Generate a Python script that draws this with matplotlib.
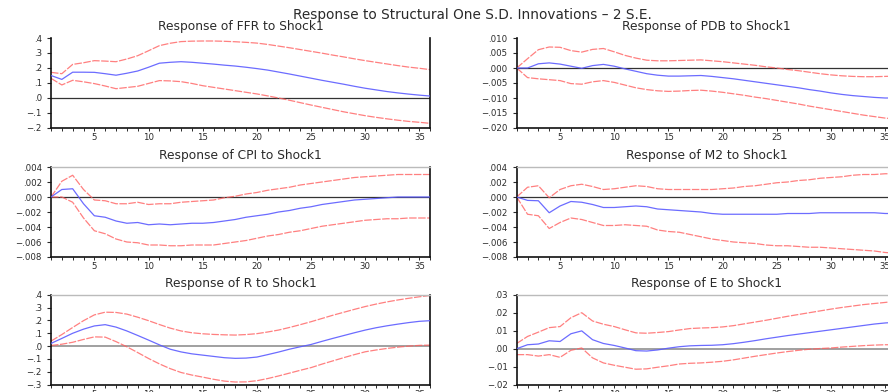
import numpy as np
import matplotlib
matplotlib.use("Agg")
import matplotlib.pyplot as plt
from matplotlib.ticker import FixedLocator, MultipleLocator

plt.rcParams['font.family'] = ['DejaVu Sans']

periods = np.arange(1, 37)

ffr_resp = [.150, .124, .172, .172, .171, .162, .152, .165, .180, .205, .232, .238, .242, .238, .232, .226,
            .219, .213, .205, .196, .186, .173, .160, .146, .132, .118, .105, .092, .078, .065, .054, .043,
            .034, .026, .019, .013]
ffr_upper = [.171, .162, .224, .235, .249, .246, .242, .260, .282, .315, .349, .365, .376, .379, .380, .380,
             .378, .375, .371, .366, .357, .346, .335, .323, .311, .299, .286, .274, .261, .249, .238, .227,
             .216, .206, .198, .189]
ffr_lower = [.131, .087, .118, .108, .096, .080, .062, .070, .078, .097, .116, .114, .109, .097, .082, .071,
             .060, .049, .038, .027, .014, .000, -.015, -.031, -.047, -.062, -.077, -.092, -.105, -.118,
             -.129, -.139, -.148, -.156, -.162, -.169]

pdb_resp = [0, 0, .0014, .0017, .0013, .0006, -.0001, .0008, .0012, .0006, -.0003, -.0011, -.0019, -.0024,
            -.0027, -.0027, -.0026, -.0025, -.0028, -.0032, -.0036, -.0041, -.0046, -.0051, -.0056, -.0061,
            -.0066, -.0072, -.0077, -.0083, -.0088, -.0092, -.0095, -.0098, -.0100, -.0100]
pdb_upper = [0, .0031, .0061, .0070, .0069, .0058, .0053, .0062, .0065, .0054, .0042, .0033, .0026, .0024,
             .0024, .0025, .0026, .0027, .0024, .0021, .0017, .0013, .0009, .0004, .0000, -.0005, -.0009,
             -.0014, -.0019, -.0023, -.0026, -.0028, -.0029, -.0029, -.0028, -.0027]
pdb_lower = [0, -.0032, -.0036, -.0039, -.0042, -.0052, -.0054, -.0046, -.0042, -.0048, -.0057, -.0066,
             -.0072, -.0076, -.0078, -.0077, -.0075, -.0074, -.0077, -.0081, -.0086, -.0091, -.0097, -.0102,
             -.0108, -.0114, -.0120, -.0127, -.0133, -.0139, -.0145, -.0151, -.0157, -.0162, -.0167, -.0170]

cpi_resp = [0, .0010, .0011, -.0009, -.0025, -.0027, -.0032, -.0035, -.0034, -.0037, -.0036, -.0037, -.0036,
            -.0035, -.0035, -.0034, -.0032, -.0030, -.0027, -.0025, -.0023, -.0020, -.0018, -.0015, -.0013,
            -.0010, -.0008, -.0006, -.0004, -.0003, -.0002, -.0001, .0000, .0000, .0000, .0000]
cpi_upper = [0, .0021, .0029, .0010, -.0004, -.0005, -.0009, -.0009, -.0007, -.0010, -.0009, -.0009, -.0007,
             -.0006, -.0005, -.0004, -.0001, .0001, .0004, .0006, .0009, .0011, .0013, .0016, .0018, .0020,
             .0022, .0024, .0026, .0027, .0028, .0029, .0030, .0030, .0030, .0030]
cpi_lower = [0, .0000, -.0007, -.0028, -.0045, -.0049, -.0056, -.0060, -.0061, -.0064, -.0064, -.0065,
             -.0065, -.0064, -.0064, -.0064, -.0062, -.0060, -.0058, -.0055, -.0052, -.0050, -.0047, -.0045,
             -.0042, -.0039, -.0037, -.0035, -.0033, -.0031, -.0030, -.0029, -.0029, -.0028, -.0028, -.0028]

m2_resp = [0, -.00045, -.0005, -.0021, -.0012, -.0006, -.0007, -.0010, -.0014, -.0014, -.0013, -.0012,
           -.0013, -.0016, -.0017, -.0018, -.0019, -.0020, -.0022, -.0023, -.0023, -.0023, -.0023, -.0023,
           -.0023, -.0022, -.0022, -.0022, -.0021, -.0021, -.0021, -.0021, -.0021, -.0021, -.0022, -.0022]
m2_upper = [0, .0013, .0015, -.0001, .0010, .0015, .0017, .0014, .0010, .0011, .0013, .0015, .0014, .0011,
            .0010, .0010, .0010, .0010, .0010, .0011, .0012, .0014, .0015, .0017, .0019, .0020, .0022, .0023,
            .0025, .0026, .0027, .0029, .0030, .0030, .0031, .0031]
m2_lower = [0, -.0023, -.0025, -.0042, -.0034, -.0028, -.0030, -.0034, -.0038, -.0038, -.0037, -.0038,
            -.0039, -.0044, -.0046, -.0047, -.0050, -.0053, -.0056, -.0058, -.0060, -.0061, -.0062, -.0064,
            -.0065, -.0065, -.0066, -.0067, -.0067, -.0068, -.0069, -.0070, -.0071, -.0072, -.0074, -.0075]

r_resp = [.021, .060, .100, .132, .157, .167, .148, .118, .083, .047, .010, -.024, -.045, -.060, -.070, -.080,
          -.090, -.095, -.093, -.085, -.066, -.046, -.024, -.005, .013, .037, .060, .082, .104, .125, .143,
          .158, .171, .183, .193, .198]
r_upper = [.039, .090, .145, .198, .243, .264, .262, .249, .225, .198, .168, .140, .118, .104, .096, .091,
           .088, .086, .090, .097, .110, .125, .145, .167, .190, .215, .240, .263, .286, .308, .327, .344,
           .359, .372, .384, .394]
r_lower = [.005, .015, .030, .052, .072, .070, .035, -.005, -.050, -.096, -.138, -.175, -.205, -.225, -.241,
           -.258, -.272, -.279, -.278, -.269, -.252, -.232, -.210, -.188, -.167, -.140, -.115, -.090, -.066,
           -.044, -.030, -.018, -.008, .000, .006, .008]

e_resp = [0, .0022, .0026, .0044, .0040, .0083, .0099, .0050, .0029, .0018, .0004, -.0011, -.0013, -.0007,
          .0003, .0011, .0016, .0018, .0019, .0022, .0028, .0036, .0045, .0055, .0064, .0073, .0081, .0089,
          .0097, .0105, .0113, .0121, .0129, .0137, .0143, .0147]
e_upper = [.0029, .0068, .0092, .0117, .0123, .0172, .0200, .0154, .0136, .0123, .0105, .0088, .0086, .0090,
           .0095, .0104, .0112, .0115, .0117, .0121, .0128, .0138, .0148, .0158, .0169, .0180, .0190, .0200,
           .0210, .0220, .0229, .0237, .0245, .0251, .0257, .0264]
e_lower = [-.0033, -.0033, -.0041, -.0033, -.0048, -.0009, .0004, -.0051, -.0079, -.0092, -.0103, -.0114,
           -.0112, -.0103, -.0095, -.0085, -.0081, -.0079, -.0075, -.0070, -.0062, -.0052, -.0042, -.0033,
           -.0024, -.0016, -.0009, -.0003, .0001, .0004, .0009, .0013, .0017, .0020, .0022, .0022]

ffr_ticks = [.4, .3, .2, .1, .0, -.1, -.2]
ffr_labels = [".4", ".3", ".2", ".1", ".0", "−.1", "−.2"]
pdb_ticks = [.010, .005, .000, -.005, -.010, -.015, -.020]
pdb_labels = [".010", ".005", ".000", "−.005", "−.010", "−.015", "−.020"]
cpi_ticks = [.004, .002, .000, -.002, -.004, -.006, -.008]
cpi_labels = [".004", ".002", ".000", "−.002", "−.004", "−.006", "−.008"]
m2_ticks = cpi_ticks
m2_labels = cpi_labels
r_ticks = [.4, .3, .2, .1, .0, -.1, -.2, -.3]
r_labels = [".4", ".3", ".2", ".1", ".0", "−.1", "−.2", "−.3"]
e_ticks = [.03, .02, .01, .00, -.01, -.02]
e_labels = [".03", ".02", ".01", ".00", "−.01", "−.02"]

x_major = [5, 10, 15, 20, 25, 30, 35]

panels = [
    ("Response of FFR to Shock1", ffr_resp, ffr_upper, ffr_lower, ffr_ticks, ffr_labels),
    ("Response of PDB to Shock1", pdb_resp, pdb_upper, pdb_lower, pdb_ticks, pdb_labels),
    ("Response of CPI to Shock1", cpi_resp, cpi_upper, cpi_lower, cpi_ticks, cpi_labels),
    ("Response of M2 to Shock1", m2_resp, m2_upper, m2_lower, m2_ticks, m2_labels),
    ("Response of R to Shock1", r_resp, r_upper, r_lower, r_ticks, r_labels),
    ("Response of E to Shock1", e_resp, e_upper, e_lower, e_ticks, e_labels),
]

W, H = 888, 392
fig = plt.figure(figsize=(W / 100, H / 100), dpi=100)
fig.patch.set_facecolor("white")

col_left = [51, 516.7]
col_width = 379.3
row_top = [38, 167, 294.7]
row_height = 90

BLUE = "#5c5cff"
RED = "#ff6060"

fig.text(472 / W, 1 - 14.5 / H, "Response to Structural One S.D. Innovations \u2013 2 S.E.",
         ha="center", va="center", fontsize=9.8, color="#2a2a2a")

for i, (title, resp, up, lo, ticks, labels) in enumerate(panels):
    r, c = divmod(i, 2)
    left = col_left[c] / W
    bottom = 1 - (row_top[r] + row_height) / H
    ax = fig.add_axes([left, bottom, col_width / W, row_height / H])
    ax.set_xlim(1, 36)
    ax.set_ylim(min(ticks), max(ticks))

    zero_color = "#999999" if r == 2 else "#333333"
    zero_lw = 1.3 if r == 2 else 0.9
    ax.axhline(0, color=zero_color, lw=zero_lw, zorder=1)

    ax.plot(periods, up, color=RED, lw=0.9, ls=(0, (6, 1.2)), alpha=0.8, zorder=2)
    ax.plot(periods, lo, color=RED, lw=0.9, ls=(0, (6, 1.2)), alpha=0.8, zorder=2)
    ax.plot(periods, resp, color=BLUE, lw=0.9, alpha=0.9, zorder=3)

    ax.yaxis.set_major_locator(FixedLocator(ticks))
    ax.set_yticklabels(labels)
    ax.xaxis.set_major_locator(FixedLocator(x_major))
    ax.xaxis.set_minor_locator(MultipleLocator(1))
    ax.set_xticklabels([str(v) for v in x_major])

    ax.tick_params(axis="y", direction="out", length=3, width=0.8, pad=3.5,
                   labelsize=6.2, colors="#2a2a2a")
    ax.tick_params(axis="x", which="both", direction="out", length=2.2, width=0.7, pad=1.5,
                   labelsize=6.2, colors="#2a2a2a")

    for side in ("left", "bottom", "right"):
        ax.spines[side].set_color("#111111")
        ax.spines[side].set_linewidth(1.2)
    if r == 0:
        ax.spines["top"].set_visible(False)
    else:
        ax.spines["top"].set_color("#bbbbbb")
        ax.spines["top"].set_linewidth(1.0)

    ax.set_title(title, fontsize=8.8, color="#2a2a2a", pad=5.5)

fig.savefig("out.png", dpi=100, facecolor="white")
